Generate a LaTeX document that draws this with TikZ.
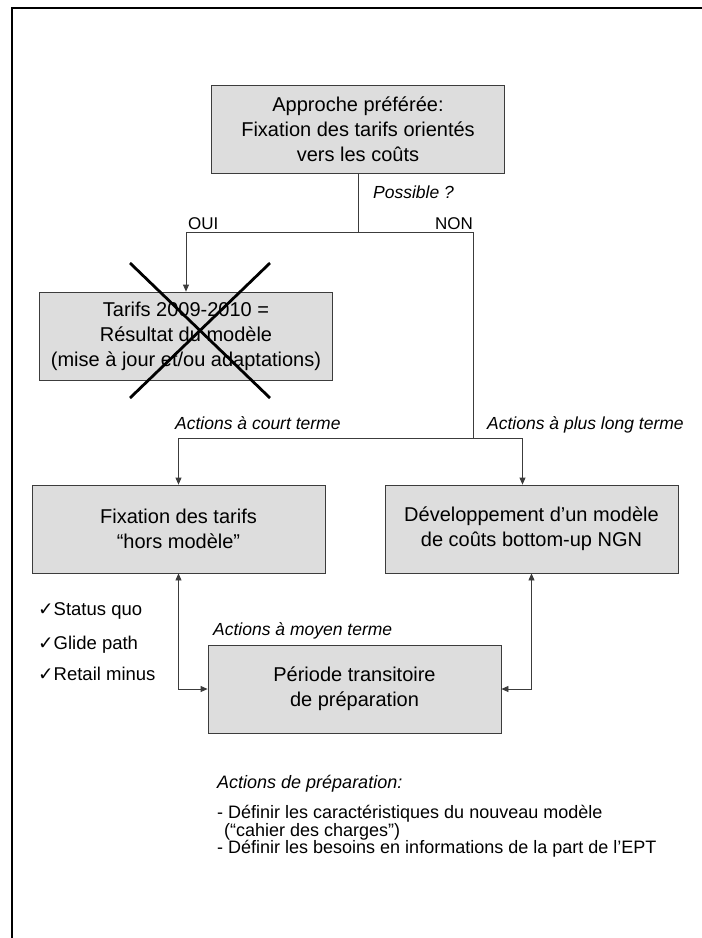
\documentclass[tikz,border=0pt]{standalone}
\usepackage{fontspec}
\setmainfont{Liberation Sans}
\newfontfamily\checkfont{DejaVu Sans}
\usetikzlibrary{arrows.meta, positioning}
\definecolor{boxgray}{RGB}{221,221,221}
\definecolor{linegray}{RGB}{60,60,60}

\begin{document}
\begin{tikzpicture}[x=1pt, y=-1pt,
    box/.style={rectangle, draw=linegray, line width=0.8pt, fill=boxgray, minimum width=293pt, minimum height=88pt, inner sep=0pt, align=center, font=\fontsize{20}{25}\selectfont},
    conn/.style={draw=linegray, line width=0.8pt},
    arr/.style={conn, -{Triangle[length=7pt, width=6pt]}},
    arrboth/.style={conn, {Triangle[length=7pt, width=6pt]}-{Triangle[length=7pt, width=6pt]}},
    lbl/.style={font=\fontsize{17.5}{20}\selectfont\itshape, inner sep=0pt},
    txt/.style={font=\fontsize{17}{20}\selectfont, inner sep=0pt},
    note/.style={font=\fontsize{18}{20}\selectfont, inner sep=0pt, anchor=base west},
    cross/.style={line width=2.8pt, black}
]
\useasboundingbox (0,0) rectangle (702,938);

% Frame
\draw[line width=2pt] (12,938) -- (12,8) -- (702,8);

% Boxes
\node[box] (approche) at (358,129.5) {Approche préférée:\\Fixation des tarifs orientés\\vers les coûts};
\node[box] (tarifs) at (186,336) {Tarifs 2009-2010 =\\Résultat du modèle\\(mise à jour et/ou adaptations)};
\node[box] (fixation) at (178.5,529) {Fixation des tarifs\\“hors modèle”};
\node[box] (dev) at (531.5,529) {Développement d’un modèle\\de coûts bottom-up NGN};
\node[box] (periode) at (354.5,689) {Période transitoire\\de préparation};

% Branch points
\coordinate (fork) at (358,232);
\coordinate (non) at (473,438);

% Connectors
\draw[conn] (approche.south) -- (fork);
\draw[arr] (fork) -| (tarifs.north);
\draw[conn] (fork) -| (non);
\draw[arr] (non) -| (fixation.north);
\draw[arr] (non) -| ([xshift=-9pt]dev.north);
\draw[arrboth] (fixation.south) |- (periode.west);
\draw[arrboth] (dev.south) |- (periode.east);

% Crossed-out option
\draw[cross] (130,263) -- (270,398);
\draw[cross] (270,263) -- (130,398);

% Labels
\node[lbl, anchor=base west] (possible) at (373,198) {Possible ?};
\node[txt, anchor=base west] (oui) at (188,229) {OUI};
\node[txt, anchor=base east] (nonlbl) at (473,229) {NON};
\node[lbl, anchor=base west] (court) at (175,429) {Actions à court terme};
\node[lbl, anchor=base west] (long) at (487,429) {Actions à plus long terme};
\node[lbl, anchor=base west] (moyen) at (213,635) {Actions à moyen terme};

% Check list
\node[txt, font=\fontsize{18.5}{20}\selectfont, anchor=base west] (chk1) at (38,615) {{\checkfont ✓}Status quo};
\node[txt, font=\fontsize{18.5}{20}\selectfont, anchor=base west] (chk2) at (38,649) {{\checkfont ✓}Glide path};
\node[txt, font=\fontsize{18.5}{20}\selectfont, anchor=base west] (chk3) at (38,680) {{\checkfont ✓}Retail minus};

% Preparation
\node[note, font=\fontsize{18}{20}\selectfont\itshape] (prep) at (217,788) {Actions de préparation:};
\node[note] (prep1) at (217,818.5) {- Définir les caractéristiques du nouveau modèle};
\node[note] (prep2) at (224,836) {(“cahier des charges”)};
\node[note] (prep3) at (217,853.5) {- Définir les besoins en informations de la part de l’EPT};

\end{tikzpicture}
\end{document}
